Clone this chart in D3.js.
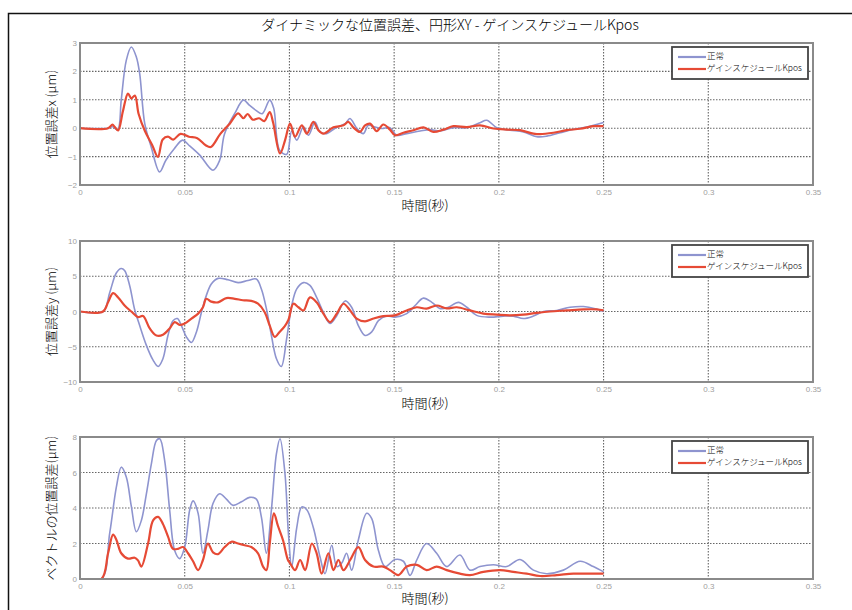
<!DOCTYPE html>
<html>
<head>
<meta charset="utf-8">
<script src="https://cdnjs.cloudflare.com/ajax/libs/d3/7.8.5/d3.min.js"></script>
<style>
  body { margin: 0; background: #fff; }
  text { font-family: "Noto Sans CJK JP", "Noto Sans", sans-serif; }
</style>
</head>
<body>
<script>
'use strict';

// chart text
const title = "ダイナミックな位置誤差、円形XY - ゲインスケジュールKpos";
const xLabel = "時間(秒)";
const seriesNames = ["正常", "ゲインスケジュールKpos"];
const yLabels = ["位置誤差x (μm)", "位置誤差y (μm)", "ベクトルの位置誤差(μm)"];

// ticks
const xTicks = [0, 0.05, 0.1, 0.15, 0.2, 0.25, 0.3, 0.35];
const xTickLabels = ["0", "0.05", "0.1", "0.15", "0.2", "0.25", "0.3", "0.35"];
const yTicksX = [-2, -1, 0, 1, 2, 3];
const yTicksY = [-10, -5, 0, 5, 10];
const yTicksV = [0, 2, 4, 6, 8];

// panel 1: x error [time s, μm]
const xNormal = [[0,0],[0.0134,0],[0.0155,0.05],[0.018,-0.05],[0.0197,1.0],[0.0221,2.39],[0.0245,2.86],
  [0.0269,2.51],[0.0285,1.92],[0.0309,0.17],[0.034,-0.66],[0.038,-1.54],[0.041,-1.13],[0.045,-0.72],
  [0.049,-0.42],[0.052,-0.6],[0.0572,-0.95],[0.0635,-1.48],[0.0667,-1.13],[0.069,-0.2],[0.0739,0.52],
  [0.078,0.99],[0.081,0.8],[0.084,0.63],[0.087,0.51],[0.0906,0.99],[0.0925,0.7],[0.0953,-0.77],
  [0.0987,-0.92],[0.1011,-0.1],[0.1035,-0.42],[0.1067,0.05],[0.1091,-0.25],[0.1122,0.22],[0.1146,-0.13],
  [0.1178,-0.19],[0.1218,0.0],[0.1266,0.16],[0.1289,0.34],[0.1321,0.0],[0.1353,-0.19],[0.1377,0.1],
  [0.1409,0.04],[0.1441,-0.01],[0.148,0.02],[0.1512,-0.25],[0.156,-0.19],[0.1624,-0.1],[0.1671,-0.05],
  [0.1719,-0.1],[0.1783,0.02],[0.1847,0.02],[0.191,0.19],[0.1942,0.28],[0.199,0.02],[0.2053,-0.07],
  [0.2117,-0.13],[0.2181,-0.3],[0.2229,-0.28],[0.2292,-0.16],[0.2356,-0.04],[0.242,0.04],[0.25,0.2]];
const xGain = [[0,0],[0.0134,0],[0.0155,0.13],[0.0165,0.05],[0.0182,-0.08],[0.0205,0.6],[0.0229,1.22],
  [0.0245,1.05],[0.0262,1.15],[0.028,0.5],[0.031,-0.1],[0.0345,-0.6],[0.0372,-1.01],[0.0395,-0.4],
  [0.042,-0.3],[0.0445,-0.4],[0.048,-0.2],[0.052,-0.3],[0.056,-0.35],[0.06,-0.6],[0.0625,-0.66],
  [0.067,-0.2],[0.0715,0.16],[0.0755,0.52],[0.078,0.35],[0.08,0.5],[0.0825,0.3],[0.0855,0.35],
  [0.088,0.25],[0.0906,0.57],[0.0922,0.2],[0.0955,-0.89],[0.098,-0.4],[0.1003,0.16],[0.1027,-0.3],
  [0.1059,0.1],[0.1083,-0.19],[0.1114,0.22],[0.1138,-0.07],[0.1162,-0.19],[0.121,0.03],[0.1258,0.1],
  [0.1281,0.22],[0.1305,0.03],[0.1337,-0.13],[0.1361,0.1],[0.1385,0.16],[0.1417,-0.1],[0.1448,0.13],
  [0.148,-0.05],[0.1504,-0.25],[0.1544,-0.16],[0.1592,-0.07],[0.164,0.03],[0.1687,-0.13],[0.1735,-0.05],
  [0.1783,0.07],[0.1847,0.04],[0.191,0.1],[0.1974,-0.01],[0.2038,-0.05],[0.2101,-0.07],[0.2165,-0.19],
  [0.2197,-0.21],[0.226,-0.16],[0.2324,-0.07],[0.2388,-0.02],[0.2451,0.07],[0.25,0.07]];

// panel 2: y error [time s, μm]
const yNormal = [[0,0],[0.011,0],[0.0142,2.7],[0.0174,5.5],[0.0197,6.1],[0.0213,5.8],[0.0237,3.7],
  [0.026,0.4],[0.0285,-2.0],[0.0317,-4.8],[0.0349,-6.9],[0.0373,-7.8],[0.0396,-6.7],[0.042,-3.4],
  [0.0444,-1.3],[0.0465,-1.0],[0.0484,-2.0],[0.0508,-3.6],[0.0532,-4.4],[0.0556,-2.9],[0.058,-0.1],
  [0.0603,2.25],[0.0627,3.9],[0.0659,4.7],[0.0707,4.5],[0.0755,4.1],[0.0802,4.4],[0.0842,4.6],
  [0.0866,3.2],[0.089,0.4],[0.0914,-3.4],[0.0938,-6.7],[0.0961,-7.8],[0.0987,-3.8],[0.1011,0.85],
  [0.1035,3.2],[0.1067,4.1],[0.1098,3.7],[0.113,2.0],[0.1162,-0.1],[0.1194,-1.7],[0.1226,-0.6],
  [0.1266,1.5],[0.1297,0.6],[0.1329,-2.0],[0.1361,-3.4],[0.1393,-2.9],[0.1425,-1.3],[0.1464,-0.65],
  [0.1504,-0.8],[0.156,-0.3],[0.16,0.85],[0.164,1.9],[0.168,1.3],[0.172,0.4],[0.1759,0.6],[0.1807,1.3],
  [0.1847,0.6],[0.1894,-0.55],[0.1958,-0.8],[0.2021,-0.65],[0.2069,-0.65],[0.2117,-1.0],[0.2165,-0.65],
  [0.2213,0],[0.2276,0.15],[0.234,0.6],[0.2404,0.7],[0.246,0.4],[0.25,0]];
const yGain = [[0,0],[0.011,0],[0.0134,1.3],[0.0158,2.6],[0.0182,2.0],[0.0213,0.85],[0.0245,0],
  [0.0277,-0.8],[0.0301,-0.65],[0.0333,-2.4],[0.0365,-3.4],[0.0396,-3.3],[0.0428,-2.4],[0.0452,-1.5],
  [0.0476,-1.9],[0.05,-1.7],[0.0532,-1.0],[0.0564,-0.3],[0.0587,0.6],[0.0603,1.8],[0.0627,1.4],
  [0.0659,1.3],[0.0699,1.9],[0.0739,1.8],[0.0778,1.6],[0.0818,1.5],[0.085,1.1],[0.0882,-0.1],
  [0.0906,-2.0],[0.093,-3.6],[0.0953,-2.9],[0.0977,-2.1],[0.0995,-1.2],[0.1019,1.1],[0.1043,0.6],
  [0.1067,0.15],[0.1098,2.0],[0.113,1.3],[0.1162,-0.3],[0.1194,-1.5],[0.1226,-0.3],[0.1258,1.1],
  [0.129,0.15],[0.1321,-1.0],[0.1361,-1.4],[0.1401,-1.0],[0.1448,-0.65],[0.1504,-0.55],[0.156,0.15],
  [0.1608,0.6],[0.1655,0.4],[0.1703,0.85],[0.1751,0.45],[0.1799,0.6],[0.1862,0.15],[0.1926,-0.3],
  [0.199,-0.45],[0.2053,-0.55],[0.2117,-0.45],[0.2181,-0.2],[0.2244,0],[0.2324,0.15],[0.2404,0.3],
  [0.2467,0.3],[0.25,0.15]];

// panel 3: vector error [time s, μm]
const vNormal = [[0,0],[0.0102,0],[0.0142,2.6],[0.0174,5.2],[0.0197,6.3],[0.0221,5.75],[0.0245,4.1],
  [0.0269,2.66],[0.0293,3.3],[0.0317,4.8],[0.0341,6.5],[0.0365,7.8],[0.0381,7.9],[0.0404,6.7],
  [0.0428,3.9],[0.0452,1.6],[0.0476,1.15],[0.05,1.8],[0.0524,3.9],[0.054,4.4],[0.0564,3.7],
  [0.0587,1.45],[0.0611,2.75],[0.0635,4.25],[0.0667,4.8],[0.0699,4.5],[0.0731,4.15],[0.0771,4.35],
  [0.081,4.6],[0.0842,4.5],[0.0866,3.5],[0.089,1.45],[0.0914,3.9],[0.0938,7.06],[0.0955,7.9],
  [0.0979,5.9],[0.0995,2.6],[0.1011,0.7],[0.1035,2.9],[0.1059,4.06],[0.1083,3.9],[0.1114,2.9],
  [0.1146,1.25],[0.117,0.3],[0.1202,1.9],[0.1226,0.7],[0.125,0.9],[0.1273,1.45],[0.1297,0.5],
  [0.1329,2.2],[0.1369,3.7],[0.1393,3.4],[0.1425,1.6],[0.1457,0.7],[0.1504,1.1],[0.1544,1.0],
  [0.1576,0.2],[0.1608,1.07],[0.1655,2.0],[0.1703,1.45],[0.1751,0.7],[0.1814,1.35],[0.1862,0.5],
  [0.191,0.7],[0.1974,0.8],[0.2038,0.7],[0.2101,1.1],[0.2165,0.5],[0.2228,0.3],[0.2308,0.5],
  [0.2388,1.0],[0.2451,0.7],[0.25,0.4]];
const vGain = [[0,0],[0.0102,0],[0.0134,1.45],[0.0158,2.5],[0.0174,2.2],[0.0197,1.45],[0.0229,1.15],
  [0.0261,1.2],[0.0277,1.05],[0.0293,0.7],[0.0325,2.0],[0.0349,3.3],[0.0373,3.5],[0.0396,3.1],
  [0.042,2.4],[0.0444,1.7],[0.0468,1.7],[0.0492,1.8],[0.0516,1.45],[0.054,1.0],[0.0564,0.5],
  [0.0587,1.07],[0.0611,2.0],[0.0635,1.5],[0.0659,1.4],[0.0691,1.8],[0.0723,2.1],[0.0755,2.0],
  [0.0786,1.9],[0.0818,1.8],[0.085,1.45],[0.0874,0.7],[0.089,0.5],[0.0906,2.0],[0.0926,3.7],
  [0.0945,3.0],[0.0969,2.2],[0.0993,1.07],[0.1003,0.9],[0.1027,0.5],[0.1051,1.07],[0.1075,0.5],
  [0.1107,2.0],[0.113,1.45],[0.1154,0.3],[0.1186,1.45],[0.121,0.5],[0.1234,1.07],[0.1258,0.5],
  [0.129,1.07],[0.1329,1.8],[0.1361,1.07],[0.1401,0.7],[0.1448,0.7],[0.148,0.5],[0.152,0.22],
  [0.156,0.7],[0.1608,0.8],[0.1655,0.5],[0.1703,0.7],[0.1751,0.5],[0.1814,0.3],[0.1862,0.22],
  [0.1926,0.4],[0.2006,0.5],[0.2069,0.4],[0.2133,0.3],[0.2197,0.17],[0.2276,0.22],[0.2356,0.3],
  [0.2436,0.3],[0.25,0.3]];

const W = 852, H = 610;
const plotLeft = 80, plotRight = 813;
const colors = { normal: "#8e94cf", gain: "#e64a35" };

const svg = d3.select("body").append("svg")
  .attr("width", W)
  .attr("height", H);

// outer frame (right and bottom edges run off the picture)
svg.append("rect")
  .attr("x", 8.5).attr("y", 13.5)
  .attr("width", 860).attr("height", 620)
  .attr("fill", "none")
  .attr("stroke", "#111")
  .attr("stroke-width", 1.5);

svg.append("text")
  .attr("x", 450).attr("y", 30)
  .attr("text-anchor", "middle")
  .style("font-size", "14px")
  .style("font-weight", 300)
  .text(title);

const xScaleTemplate = d3.scaleLinear().domain([0, 0.35]).range([plotLeft, plotRight]);

const panels = [
  { top: 43, height: 142, yDomain: [-2, 3], yTicks: yTicksX, normal: xNormal, gain: xGain, yLabel: yLabels[0], xLabelY: 206 },
  { top: 241, height: 141, yDomain: [-10, 10], yTicks: yTicksY, normal: yNormal, gain: yGain, yLabel: yLabels[1], xLabelY: 404 },
  { top: 437, height: 142, yDomain: [0, 8], yTicks: yTicksV, normal: vNormal, gain: vGain, yLabel: yLabels[2], xLabelY: 599 }
];

panels.forEach((p, i) => drawPanel(p, i));

function drawPanel(p, i) {
  const x = xScaleTemplate.copy();
  const y = d3.scaleLinear().domain(p.yDomain).range([p.top + p.height, p.top]);
  const g = svg.append("g");

  // dotted grid
  g.selectAll(".vgrid").data(xTicks.slice(1, -1)).enter().append("line")
    .attr("x1", d => x(d)).attr("x2", d => x(d))
    .attr("y1", p.top).attr("y2", p.top + p.height)
    .attr("stroke", "#666").attr("stroke-width", 1.1)
    .attr("stroke-dasharray", "1.5,1.5");
  g.selectAll(".hgrid").data(p.yTicks.slice(1, -1)).enter().append("line")
    .attr("x1", plotLeft).attr("x2", plotRight)
    .attr("y1", d => y(d)).attr("y2", d => y(d))
    .attr("stroke", "#666").attr("stroke-width", 1.1)
    .attr("stroke-dasharray", "1.5,1.5");

  // x tick labels
  const xAxis = d3.axisBottom(x).tickValues(xTicks)
    .tickFormat((d, k) => xTickLabels[k]).tickSize(0).tickPadding(4);
  const gx = g.append("g")
    .attr("transform", "translate(0," + (p.top + p.height) + ")")
    .call(xAxis);
  gx.select(".domain").remove();
  gx.selectAll("text").style("font-size", "8px").attr("fill", "#a0a0a0")
    .style("font-family", "Liberation Sans, Arial, sans-serif");

  // y tick labels
  const yAxis = d3.axisLeft(y).tickValues(p.yTicks).tickFormat(d3.format("d")).tickSize(0).tickPadding(3);
  const gy = g.append("g")
    .attr("transform", "translate(" + plotLeft + ",0)")
    .call(yAxis);
  gy.select(".domain").remove();
  gy.selectAll("text").style("font-size", "8px").attr("fill", "#a0a0a0")
    .style("font-family", "Liberation Sans, Arial, sans-serif");

  // data lines
  const line = d3.line()
    .x(d => x(d[0]))
    .y(d => y(d[1]))
    .curve(d3.curveCatmullRom.alpha(0.5));

  const clipId = "clip" + i;
  svg.append("clipPath").attr("id", clipId)
    .append("rect")
    .attr("x", plotLeft).attr("y", p.top - 1)
    .attr("width", plotRight - plotLeft).attr("height", p.height + 2);

  const lines = g.append("g").attr("clip-path", "url(#" + clipId + ")");
  lines.append("path").datum(p.normal)
    .attr("d", line)
    .attr("fill", "none")
    .attr("stroke", colors.normal)
    .attr("stroke-width", 1.6);
  lines.append("path").datum(p.gain)
    .attr("d", line)
    .attr("fill", "none")
    .attr("stroke", colors.gain)
    .attr("stroke-width", 2.2);

  // axes box
  g.append("rect")
    .attr("x", plotLeft).attr("y", p.top)
    .attr("width", plotRight - plotLeft).attr("height", p.height)
    .attr("fill", "none")
    .attr("stroke", "#8a8a8a")
    .attr("stroke-width", 2);

  // axis labels
  g.append("text")
    .attr("x", 425).attr("y", p.xLabelY)
    .attr("text-anchor", "middle")
    .attr("dominant-baseline", "middle")
    .style("font-size", "13px")
    .style("font-weight", 300)
    .text(xLabel);

  g.append("text")
    .attr("transform", "translate(52," + (p.top + p.height / 2) + ")rotate(-90)")
    .attr("text-anchor", "middle")
    .attr("dominant-baseline", "middle")
    .style("font-size", "13px")
    .style("font-weight", 300)
    .text(p.yLabel);

  // legend
  const lx = plotRight - 141, ly = p.top + 4;
  const lg = g.append("g").attr("transform", "translate(" + lx + "," + ly + ")");
  lg.append("rect")
    .attr("width", 136).attr("height", 32)
    .attr("fill", "#fff")
    .attr("stroke", "#444")
    .attr("stroke-width", 1.8);
  const entries = [
    { name: seriesNames[0], color: colors.normal },
    { name: seriesNames[1], color: colors.gain }
  ];
  entries.forEach((e, k) => {
    const ey = 10 + k * 12;
    lg.append("line")
      .attr("x1", 6).attr("x2", 34)
      .attr("y1", ey).attr("y2", ey)
      .attr("stroke", e.color).attr("stroke-width", 2.2);
    lg.append("text")
      .attr("x", 35).attr("y", ey)
      .attr("dominant-baseline", "middle")
      .style("font-size", "8.5px")
      .style("font-weight", 300)
      .text(e.name);
  });
}
</script>
</body>
</html>
